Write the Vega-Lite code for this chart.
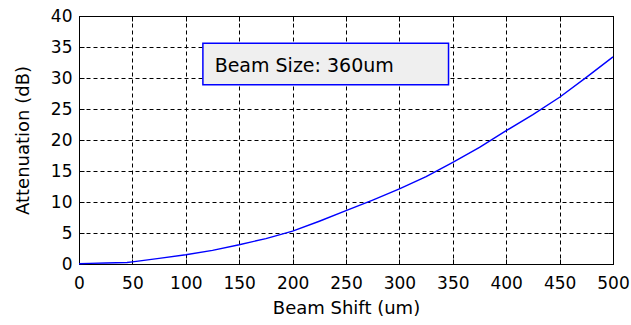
{
  "$schema": "https://vega.github.io/schema/vega-lite/v6.json",
  "width": 534,
  "height": 248,
  "autosize": {"type": "none"},
  "padding": {"left": 79, "top": 16, "right": 18, "bottom": 61},
  "background": "white",
  "config": {
    "view": {"stroke": "black", "strokeWidth": 1},
    "axis": {
      "labelFont": "DejaVu Sans",
      "labelFontSize": 17,
      "labelColor": "black",
      "titleFont": "DejaVu Sans",
      "titleFontSize": 18,
      "titleFontWeight": "normal",
      "titleColor": "black",
      "domain": false,
      "tickColor": "black",
      "tickWidth": 1,
      "gridColor": "black",
      "gridOpacity": 1,
      "gridDash": [4, 3],
      "gridWidth": 1
    }
  },
  "resolve": {"axis": {"x": "independent", "y": "independent"}},
  "layer": [
    {
      "data": {"name": "curve", "values": [
        {"shift": 0, "att": 0.05},
        {"shift": 10, "att": 0.1},
        {"shift": 25, "att": 0.15},
        {"shift": 45, "att": 0.25},
        {"shift": 50, "att": 0.35},
        {"shift": 75, "att": 0.9},
        {"shift": 100, "att": 1.5},
        {"shift": 125, "att": 2.2},
        {"shift": 150, "att": 3.1},
        {"shift": 175, "att": 4.1},
        {"shift": 200, "att": 5.3},
        {"shift": 225, "att": 6.9},
        {"shift": 250, "att": 8.6},
        {"shift": 275, "att": 10.3},
        {"shift": 300, "att": 12.1},
        {"shift": 325, "att": 14.1},
        {"shift": 350, "att": 16.4},
        {"shift": 375, "att": 18.8},
        {"shift": 400, "att": 21.5},
        {"shift": 425, "att": 24.1},
        {"shift": 450, "att": 26.9},
        {"shift": 475, "att": 30.1},
        {"shift": 500, "att": 33.4}
      ]},
      "mark": {"type": "line", "color": "#0000ff", "strokeWidth": 1.4},
      "encoding": {
        "x": {"field": "shift", "type": "quantitative",
          "scale": {"domain": [0, 500], "nice": false},
          "axis": {"title": "Beam Shift (um)", "values": [0,50,100,150,200,250,300,350,400,450,500], "tickSize": -5, "labelPadding": 16, "titlePadding": 8, "grid": true, "labelFlush": false}},
        "y": {"field": "att", "type": "quantitative",
          "scale": {"domain": [0, 40], "nice": false},
          "axis": {"title": "Attenuation (dB)", "values": [0,5,10,15,20,25,30,35,40], "tickSize": -5, "labelPadding": 12, "titlePadding": 18, "grid": true, "labelFlush": false}}
      }
    },
    {
      "data": {"values": [{"x1": 116, "x2": 346, "y1": 28.9, "y2": 35.6}]},
      "mark": {"type": "rect", "fill": "#efefef", "stroke": "#0000ff", "strokeWidth": 1.5},
      "encoding": {
        "x": {"field": "x1", "type": "quantitative", "axis": null},
        "x2": {"field": "x2"},
        "y": {"field": "y1", "type": "quantitative", "axis": null},
        "y2": {"field": "y2"}
      }
    },
    {
      "data": {"values": [{"x": 127, "y": 31.9, "label": "Beam Size: 360um"}]},
      "mark": {"type": "text", "align": "left", "baseline": "middle", "font": "DejaVu Sans", "fontSize": 19, "color": "black"},
      "encoding": {
        "x": {"field": "x", "type": "quantitative", "axis": null},
        "y": {"field": "y", "type": "quantitative", "axis": null},
        "text": {"field": "label"}
      }
    },
    {
      "data": {"name": "curve"},
      "mark": {"type": "line", "opacity": 0},
      "encoding": {
        "x": {"field": "shift", "type": "quantitative",
          "axis": {"orient": "top", "title": null, "labels": false, "values": [0,50,100,150,200,250,300,350,400,450,500], "tickSize": -5, "grid": false}},
        "y": {"field": "att", "type": "quantitative",
          "axis": {"orient": "right", "title": null, "labels": false, "values": [0,5,10,15,20,25,30,35,40], "tickSize": -5, "grid": false}}
      }
    }
  ]
}
